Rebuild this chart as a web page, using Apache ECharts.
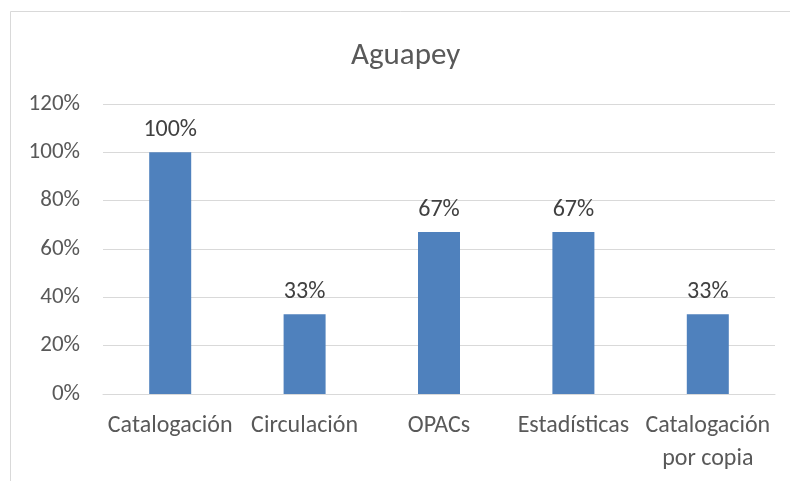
<!DOCTYPE html>
<html>
<head>
<meta charset="utf-8">
<script src="https://cdn.jsdelivr.net/npm/echarts@6/dist/echarts.min.js"></script>
<style>
  html, body { margin: 0; padding: 0; background: #fff; }
  #chart { width: 790px; height: 481px; }
</style>
</head>
<body>
<div id="chart"></div>
<script>
var categories = ['Catalogación', 'Circulación', 'OPACs', 'Estadísticas', 'Catalogación\npor copia'];
var values = [100, 33, 67, 67, 33];
var yTicks = [0, 20, 40, 60, 80, 100, 120];

var font = 'Carlito, Calibri, "Open Sans", "Noto Sans", sans-serif';

var chart = echarts.init(document.getElementById('chart'));
chart.setOption({
    animation: false,
    backgroundColor: '#fff',
    graphic: [{
        type: 'rect',
        shape: { x: 10.5, y: 11.5, width: 900, height: 600 },
        style: { fill: 'none', stroke: '#d9d9d9', lineWidth: 1 },
        silent: true
    }],
    title: {
        text: 'Aguapey',
        left: 346,
        top: 36,
        textStyle: { fontFamily: font, fontSize: 31, fontWeight: 'normal', color: '#595959' }
    },
    grid: { left: 103, right: 15, top: 104, bottom: 87, containLabel: false },
    xAxis: {
        type: 'category',
        data: categories,
        axisLine: { show: true, lineStyle: { color: '#d9d9d9', width: 1 } },
        axisTick: { show: false },
        axisLabel: {
            fontFamily: font, fontSize: 24, color: '#595959',
            margin: 15, lineHeight: 33, interval: 0
        }
    },
    yAxis: {
        type: 'value',
        min: yTicks[0],
        max: yTicks[yTicks.length - 1],
        interval: 20,
        axisLine: { show: false },
        axisTick: { show: false },
        splitLine: { lineStyle: { color: '#d9d9d9', width: 1 } },
        axisLabel: {
            fontFamily: font, fontSize: 23, color: '#595959', margin: 23,
            formatter: function (v) { return v + '%'; }
        }
    },
    series: [{
        type: 'bar',
        data: values,
        barWidth: 42,
        itemStyle: { color: '#4f81bd' },
        label: {
            show: true,
            position: 'top',
            distance: 10,
            fontFamily: font, fontSize: 24, color: '#404040',
            formatter: function (p) { return p.value + '%'; }
        }
    }]
});
</script>
</body>
</html>
